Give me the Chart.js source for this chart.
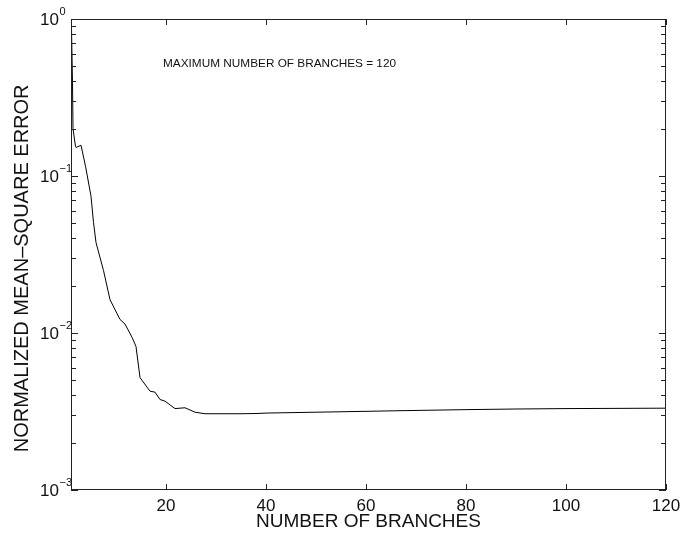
<!DOCTYPE html>
<html>
<head>
<meta charset="utf-8">
<script src="https://cdn.jsdelivr.net/npm/chart.js@4"></script>
<style>
  html, body { margin: 0; padding: 0; background: #fff; }
  #wrap { width: 680px; height: 535px; }
</style>
</head>
<body>
<div id="wrap"><canvas id="mseChart"></canvas></div>
<script>
// Normalized MSE vs number of branches
const branches = [1.1, 1.3, 1.4, 1.9, 2, 3, 3.9, 5, 5.5, 6, 7.5, 8.8, 10.8, 11.8, 13.2, 14,
  14.8, 16.8, 17.8, 18.8, 19.8, 21.8, 23.8, 25.8, 27.8, 35, 38, 40, 50, 60, 67, 80, 90, 100, 120];
const mseValues = [0.88, 0.39, 0.2, 0.154, 0.152, 0.157, 0.1155, 0.0744, 0.0506, 0.0377, 0.025,
  0.0163, 0.0122, 0.0114, 0.0094, 0.0082, 0.0052, 0.00426, 0.0042, 0.00377, 0.00368, 0.0033,
  0.00334, 0.00313, 0.00306, 0.00306, 0.00307, 0.00309, 0.00313, 0.00317, 0.0032, 0.00325,
  0.00328, 0.0033, 0.00332];

const xTickValues = [20, 40, 60, 80, 100, 120];
const yDecades = [1e-3, 1e-2, 1e-1, 1];
const yDecadeBase = '10';
const yDecadeExponents = ['\u22123', '\u22122', '\u22121', '0'];
const noteText = 'MAXIMUM NUMBER OF BRANCHES = 120';

const fontFamily = '"Liberation Sans", Arial, Helvetica, sans-serif';

// frame, inward ticks, 10^n labels and the note inside the plot
const frameTicks = {
  id: 'frameTicks',
  afterDraw(chart) {
    const { ctx, chartArea: a, scales } = chart;
    ctx.save();
    ctx.strokeStyle = '#222';
    ctx.lineWidth = 1;
    ctx.strokeRect(a.left + 0.5, a.top + 0.5, a.right - a.left - 1, a.bottom - a.top - 1);

    ctx.beginPath();
    xTickValues.forEach(v => {
      const px = Math.round(scales.x.getPixelForValue(v)) + 0.5;
      ctx.moveTo(px, a.bottom);
      ctx.lineTo(px, a.bottom - 6);
      ctx.moveTo(px, a.top);
      ctx.lineTo(px, a.top + 6);
    });
    yDecades.slice(0, -1).forEach(d => {
      for (let k = 1; k <= 9; k++) {
        const py = Math.round(scales.y.getPixelForValue(k * d)) + 0.5;
        const len = k === 1 ? 7 : 5;
        ctx.moveTo(a.left, py);
        ctx.lineTo(a.left + len, py);
        ctx.moveTo(a.right, py);
        ctx.lineTo(a.right - len, py);
      }
    });
    ctx.stroke();

    // y labels: "10" with a raised exponent
    ctx.fillStyle = '#111';
    yDecades.forEach((d, i) => {
      const py = scales.y.getPixelForValue(d);
      const baseRight = a.left - 12;
      ctx.font = '17px ' + fontFamily;
      ctx.textAlign = 'right';
      ctx.textBaseline = 'middle';
      ctx.fillText(yDecadeBase, baseRight, py + 1);
      ctx.font = '11px ' + fontFamily;
      ctx.textAlign = 'left';
      ctx.textBaseline = 'alphabetic';
      ctx.fillText(yDecadeExponents[i], baseRight + 0.5, py - 4);
    });

    ctx.font = '11.8px ' + fontFamily;
    ctx.textAlign = 'left';
    ctx.textBaseline = 'middle';
    ctx.fillText(noteText, scales.x.getPixelForValue(19.4), scales.y.getPixelForValue(0.52));
    ctx.restore();
  }
};

new Chart(document.getElementById('mseChart'), {
  type: 'line',
  data: {
    datasets: [{
      data: branches.map((b, i) => ({ x: b, y: mseValues[i] })),
      borderColor: '#000',
      borderWidth: 1,
      pointRadius: 0,
      tension: 0,
      fill: false
    }]
  },
  options: {
    responsive: true,
    maintainAspectRatio: false,
    animation: false,
    layout: { padding: { left: 0, right: 14, top: 19, bottom: 0 } },
    plugins: {
      legend: { display: false },
      tooltip: { enabled: false }
    },
    scales: {
      x: {
        type: 'linear',
        min: 1,
        max: 120,
        afterBuildTicks: scale => {
          scale.ticks = xTickValues.map(v => ({ value: v }));
        },
        afterFit: scale => { scale.height = 45; },
        grid: { display: false },
        border: { display: false },
        ticks: {
          color: '#111',
          padding: -2,
          maxRotation: 0,
          font: { family: fontFamily, size: 17 }
        },
        title: {
          display: true,
          text: 'NUMBER OF BRANCHES',
          color: '#111',
          padding: { top: 0, bottom: 2 },
          font: { family: fontFamily, size: 19 }
        }
      },
      y: {
        type: 'logarithmic',
        min: 0.001,
        max: 1,
        afterBuildTicks: scale => {
          scale.ticks = yDecades.map(v => ({ value: v, major: true }));
        },
        afterFit: scale => { scale.width = 71; },
        grid: { display: false },
        border: { display: false },
        ticks: { display: false },
        title: {
          display: true,
          // trailing spaces nudge the centred title down a little, as in the original
          text: 'NORMALIZED MEAN\u2013SQUARE ERROR' + '\u00A0'.repeat(5),
          color: '#111',
          padding: { top: 10, bottom: 0 },
          font: { family: fontFamily, size: 20 }
        }
      }
    }
  },
  plugins: [frameTicks]
});
</script>
</body>
</html>
